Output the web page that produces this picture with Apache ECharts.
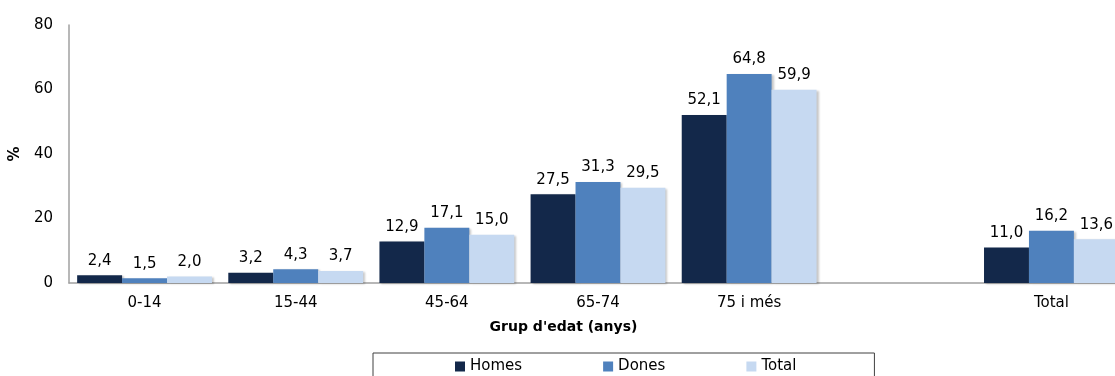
<!DOCTYPE html>
<html>
<head>
<meta charset="utf-8">
<script src="https://cdn.jsdelivr.net/npm/echarts@6/dist/echarts.min.js"></script>
<style>
  html, body { margin: 0; padding: 0; background: #fff; overflow: hidden; }
  /* the plot runs past the right edge of the page, so the canvas is wider than the view */
  #chart { width: 1140px; height: 376px; }
</style>
</head>
<body>
<div id="chart"></div>
<script>
// Age groups (blank slot separates the overall total)
const categories = ['0-14', '15-44', '45-64', '65-74', '75 i més', '', 'Total'];
const homes = [2.4, 3.2, 12.9, 27.5, 52.1, null, 11.0];
const dones = [1.5, 4.3, 17.1, 31.3, 64.8, null, 16.2];
const total = [2.0, 3.7, 15.0, 29.5, 59.9, null, 13.6];
const seriesNames = ['Homes', 'Dones', 'Total'];
const yTicks = [0, 20, 40, 60, 80];

const FONT = 'DejaVu Sans';
const colors = ['#13284a', '#4f81bd', '#c6d9f1'];

function fmt(v) { return v.toFixed(1).replace('.', ','); }

function bar(name, data, color) {
  return {
    name: name,
    type: 'bar',
    data: data,
    barGap: '0%',
    barCategoryGap: '10.8%',
    itemStyle: {
      color: color,
      shadowColor: 'rgba(0,0,0,0.22)',
      shadowBlur: 2,
      shadowOffsetX: 2,
      shadowOffsetY: 1
    },
    label: {
      show: true,
      position: 'top',
      distance: 7,
      color: '#000',
      fontFamily: FONT,
      fontSize: 15,
      formatter: p => (p.value == null ? '' : fmt(p.value))
    }
  };
}

const chart = echarts.init(document.getElementById('chart'), null, { renderer: 'canvas' });
chart.setOption({
  animation: false,
  textStyle: { fontFamily: FONT },
  grid: { left: 68, top: 25, width: 1059, bottom: 93, containLabel: false },
  legend: {
    data: seriesNames,
    left: 373,
    top: 353,
    icon: 'rect',
    itemWidth: 10,
    itemHeight: 10,
    itemGap: 81,
    borderColor: '#404040',
    borderWidth: 1,
    padding: [6, 78, 14, 82],
    textStyle: { fontFamily: FONT, fontSize: 15, color: '#000' }
  },
  xAxis: {
    type: 'category',
    data: categories,
    axisLine: { lineStyle: { color: '#a0a0a0', width: 1.5 } },
    axisTick: { show: false },
    axisLabel: { color: '#000', fontFamily: FONT, fontSize: 15, margin: 13 },
    name: "Grup d'edat (anys)",
    nameLocation: 'middle',
    nameGap: 37,
    nameTextStyle: { fontFamily: FONT, fontSize: 14, fontWeight: 'bold', color: '#000', padding: [0, 69, 0, 0] }
  },
  yAxis: {
    type: 'value',
    min: yTicks[0],
    max: yTicks[yTicks.length - 1],
    interval: yTicks[1] - yTicks[0],
    splitLine: { show: false },
    axisLine: { show: true, lineStyle: { color: '#a0a0a0', width: 1.5 } },
    axisTick: { show: false },
    axisLabel: { color: '#000', fontFamily: FONT, fontSize: 15, margin: 16 },
    name: '%',
    nameLocation: 'middle',
    nameGap: 44,
    nameRotate: 90,
    nameTextStyle: { fontFamily: FONT, fontSize: 15, fontWeight: 'bold', color: '#000' }
  },
  series: [
    bar(seriesNames[0], homes, colors[0]),
    bar(seriesNames[1], dones, colors[1]),
    bar(seriesNames[2], total, colors[2])
  ]
});
</script>
</body>
</html>
